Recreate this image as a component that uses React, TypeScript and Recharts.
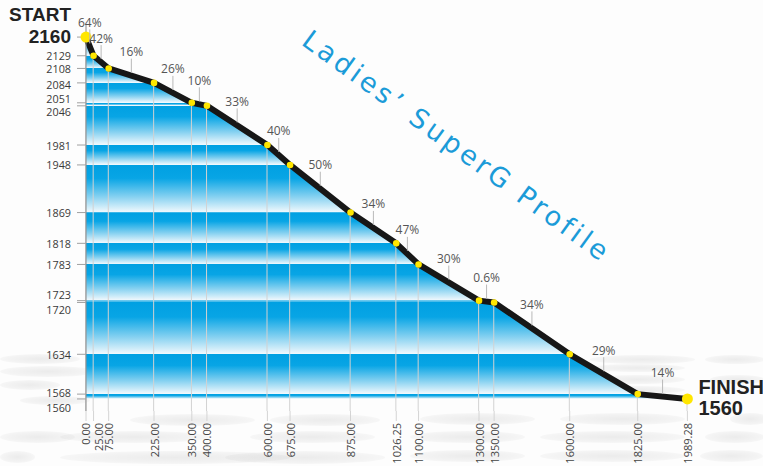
import { Area, Bar, ComposedChart, Line, Scatter, XAxis, YAxis } from "recharts";

// course profile: distance along the course (m) and elevation at each gate
const distances = [0, 25, 75, 225, 350, 400, 600, 675, 875, 1026.25, 1100, 1300, 1350, 1600, 1825, 1989.28];
const elevations = [2160, 2129, 2108, 2084, 2051, 2046, 1981, 1948, 1869, 1818, 1783, 1723, 1720, 1634, 1568, 1560];
// slope of each segment between two gates
const grades = ["64%", "42%", "16%", "26%", "10%", "33%", "40%", "50%", "34%", "47%", "30%", "0.6%", "34%", "29%", "14%"];

const profile = distances.map((dist, i) => ({ dist, elev: elevations[i] }));

// grade labels sit over the middle of each segment
const gradeMarks = grades.map((grade, i) => ({
  dist: (distances[i] + distances[i + 1]) / 2,
  elev: (elevations[i] + elevations[i + 1]) / 2,
  grade,
}));

const START = elevations[0];
const FINISH = elevations[elevations.length - 1];
const FONT = "'Open Sans', 'Liberation Sans', sans-serif";
const BOLD_FONT = "'Liberation Sans', Arial, sans-serif";

// pull apart labels of ticks that sit almost on top of each other
const ELEV_NUDGE: Record<number, number> = {
  2129: -0.5, 2108: 0.5, 2084: 1.5, 2051: -4.5, 2046: 6, 1723: -6, 1720: 7, 1568: -2, 1560: 9,
};
const DIST_NUDGE: Record<number, number> = { 0: -1, 25: 4.5 };

// faint snow streaks in the background: [left, top, width, height]
const SNOW: number[][] = [
  [0, 354, 80, 10], [0, 366, 95, 11], [0, 380, 60, 10], [20, 396, 70, 9],
  [130, 414, 125, 12], [270, 414, 110, 12], [0, 431, 75, 12], [60, 431, 150, 12],
  [250, 431, 125, 12], [0, 451, 35, 12], [60, 451, 230, 13], [225, 451, 160, 13],
  [420, 413, 115, 12], [560, 413, 125, 12], [730, 413, 40, 12], [410, 431, 115, 12],
  [540, 431, 145, 12], [705, 431, 60, 12], [410, 450, 115, 12], [540, 450, 145, 12],
  [700, 450, 63, 12], [590, 355, 105, 9], [705, 355, 60, 9], [590, 364, 95, 8],
  [590, 375, 95, 9], [710, 375, 55, 9], [590, 386, 95, 8],
];

// one blue-to-white band per elevation step, laid over the area's bounding box
function bandStops() {
  const span = START - FINISH;
  const stops: JSX.Element[] = [];
  for (let i = 0; i < elevations.length - 1; i++) {
    const a = (START - elevations[i]) / span;
    const b = (START - elevations[i + 1]) / span;
    const h = b - a;
    stops.push(<stop key={`${i}a`} offset={a} stopColor="#00a0e2" />);
    stops.push(<stop key={`${i}b`} offset={a + h * 0.28} stopColor="#08a5e5" />);
    stops.push(<stop key={`${i}c`} offset={a + h * 0.65} stopColor="#80cff0" />);
    stops.push(<stop key={`${i}d`} offset={Math.max(a, b - 0.0008)} stopColor="#f2f9fd" />);
  }
  return stops;
}

function ElevTick({ x, y, payload }: any) {
  const v = payload.value;
  if (v === START) {
    return (
      <g fontFamily={BOLD_FONT} fontWeight={700} fill="#222" fontSize={19} textAnchor="end">
        <text x={x} y={y - 23} dominantBaseline="central">START</text>
        <text x={x} y={y - 1} dominantBaseline="central">{v}</text>
      </g>
    );
  }
  return (
    <text
      x={x}
      y={y + (ELEV_NUDGE[v] ?? 0)}
      textAnchor="end"
      dominantBaseline="central"
      fontFamily={FONT}
      fontSize={10.8}
      fill="#3a3a3a"
    >
      {v}
    </text>
  );
}

function DistTick({ x, y, payload }: any) {
  const tx = x + (DIST_NUDGE[payload.value] ?? 0);
  return (
    <text
      x={tx}
      y={y}
      transform={`rotate(-90 ${tx} ${y})`}
      textAnchor="end"
      dominantBaseline="central"
      fontFamily={FONT}
      fontSize={11}
      fill="#444"
    >
      {Number(payload.value).toFixed(2)}
    </text>
  );
}

function ProfileDot({ cx, cy, index }: any) {
  const last = index === elevations.length - 1;
  const big = index === 0 || last;
  return (
    <g key={`dot-${index}`}>
      <circle cx={cx} cy={cy} r={big ? 5.5 : 3.3} fill="#ffe600" />
      {last && (
        <g fontFamily={BOLD_FONT} fontWeight={700} fill="#222" fontSize={20}>
          <text x={cx + 11} y={cy - 12} dominantBaseline="central">FINISH</text>
          <text x={cx + 11} y={cy + 9} dominantBaseline="central">{FINISH}</text>
        </g>
      )}
    </g>
  );
}

function GradeMark({ cx, cy, payload }: any) {
  return (
    <g>
      <line x1={cx} x2={cx} y1={cy - 17} y2={cy - 3} stroke="#b9b9b9" strokeWidth={1} />
      <text
        x={cx}
        y={cy - 24}
        textAnchor="middle"
        dominantBaseline="central"
        fontFamily={FONT}
        fontSize={12}
        fill="#555"
      >
        {payload.grade}
      </text>
    </g>
  );
}

export default function App() {
  return (
    <div style={{ position: "absolute", left: 0, top: 0, width: 763, height: 466, background: "#fdfdfd", overflow: "hidden" }}>
      {SNOW.map(([l, t, w, h], i) => (
        <div
          key={i}
          style={{
            position: "absolute",
            left: l,
            top: t,
            width: w,
            height: h,
            borderRadius: "50%",
            background: "radial-gradient(ellipse at center, rgba(0,0,0,0.07) 0%, rgba(0,0,0,0.04) 55%, rgba(0,0,0,0) 100%)",
          }}
        />
      ))}
      <div style={{ position: "absolute", left: 0, top: 0 }}>
        <ComposedChart width={763} height={466} data={profile} margin={{ top: 25, right: 75.6, left: 0, bottom: 0 }}>
          <defs>
            <linearGradient id="bands" x1="0" y1="0" x2="0" y2="1">
              {bandStops()}
            </linearGradient>
          </defs>
          <XAxis
            dataKey="dist"
            type="number"
            domain={[0, distances[distances.length - 1]]}
            ticks={distances}
            interval={0}
            height={55}
            axisLine={false}
            tickLine={{ stroke: "#d4d4d4" }}
            tickSize={10}
            tickMargin={2}
            tick={<DistTick />}
          />
          <YAxis
            dataKey="elev"
            type="number"
            domain={[1540, 2180]}
            ticks={elevations}
            interval={0}
            width={86}
            axisLine={{ stroke: "#8a8a8a" }}
            tickLine={{ stroke: "#a0a0a0" }}
            tickSize={9}
            tickMargin={6}
            tick={<ElevTick />}
          />
          <Area
            type="linear"
            dataKey="elev"
            baseValue={FINISH}
            stroke="none"
            fill="url(#bands)"
            fillOpacity={1}
            isAnimationActive={false}
          />
          <Bar dataKey="elev" barSize={1} fill="#d2d2d2" isAnimationActive={false} />
          <Line
            type="linear"
            dataKey="elev"
            stroke="#171717"
            strokeWidth={6}
            strokeLinejoin="round"
            dot={ProfileDot}
            activeDot={false}
            isAnimationActive={false}
          />
          <Scatter data={gradeMarks} dataKey="elev" shape={GradeMark} isAnimationActive={false} />
        </ComposedChart>
      </div>
      <div
        style={{
          position: "absolute",
          left: 457,
          top: 146,
          transform: "translate(-50%, -50%) rotate(36deg)",
          whiteSpace: "nowrap",
          fontFamily: "'DejaVu Sans', sans-serif",
          fontSize: 27,
          letterSpacing: 3.5,
          color: "#1b9bd8",
          lineHeight: 1,
        }}
      >
        Ladies’ SuperG Profile
      </div>
    </div>
  );
}
